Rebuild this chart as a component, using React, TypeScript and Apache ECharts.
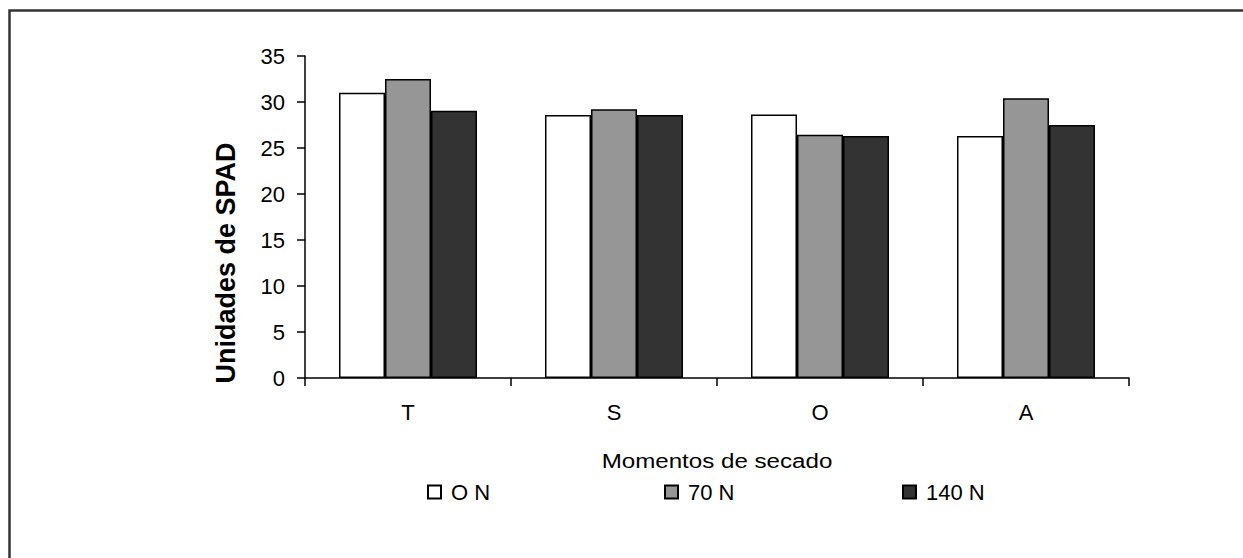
import React, { useEffect, useRef } from "react";
import * as echarts from "echarts";

const categories = ["T", "S", "O", "A"];
const seriesNames = ["O N", "70 N", "140 N"];
const valuesON = [31.0, 28.6, 28.65, 26.3];
const values70N = [32.5, 29.2, 26.45, 30.4];
const values140N = [29.05, 28.6, 26.3, 27.5];
const yTicks = { min: 0, max: 35, interval: 5 };
const yTitle = "Unidades de SPAD";
const xTitle = "Momentos de secado";

const colors = ["#ffffff", "#969696", "#333333"];
const FONT = "'Liberation Sans', Arial, sans-serif";

export default function App() {
  const ref = useRef<HTMLDivElement>(null);
  useEffect(() => {
    if (!ref.current) return;
    const chart = echarts.init(ref.current, null, { renderer: "svg" });
    const data = [valuesON, values70N, values140N];
    const legendLefts = [427, 664, 902];
    chart.setOption({
      animation: false,
      backgroundColor: "#ffffff",
      textStyle: { fontFamily: FONT },
      grid: { left: 305, right: 114, top: 56, bottom: 180, containLabel: false },
      legend: seriesNames.map((n, i) => ({
        data: [n],
        left: legendLefts[i],
        top: 481,
        itemWidth: 13,
        itemHeight: 13,
        padding: 0,
        icon: "rect",
        textStyle: { fontSize: 22, color: "#000", fontFamily: FONT, padding: [0, 0, 0, 5] },
      })),
      xAxis: {
        type: "category",
        data: categories,
        axisLine: { lineStyle: { color: "#000", width: 1.5 } },
        axisTick: { show: true, length: 8, alignWithLabel: false, lineStyle: { color: "#000", width: 1.5 } },
        axisLabel: { fontSize: 22, color: "#000", margin: 23, fontFamily: FONT },
        splitLine: { show: false },
      },
      yAxis: {
        type: "value",
        min: yTicks.min,
        max: yTicks.max,
        interval: yTicks.interval,
        axisLine: { show: true, lineStyle: { color: "#000", width: 1.5 } },
        axisTick: { show: true, length: 8, lineStyle: { color: "#000", width: 1.5 } },
        axisLabel: { fontSize: 22, color: "#000", margin: 20, fontFamily: FONT },
        splitLine: { show: false },
      },
      series: seriesNames.map((n, i) => ({
        name: n,
        type: "bar",
        data: data[i],
        barGap: "0%",
        barCategoryGap: "33%",
        itemStyle: { color: colors[i], borderColor: "#000", borderWidth: 1.5 },
      })),
      graphic: [
        {
          type: "rect",
          shape: { x: 9.5, y: 10.5, width: 1400, height: 700 },
          style: { fill: "none", stroke: "#333", lineWidth: 2.5 },
          silent: true,
        },
        {
          type: "text",
          x: 226,
          y: 263,
          rotation: Math.PI / 2,
          style: {
            text: yTitle,
            font: `bold 27px ${FONT}`,
            fill: "#000",
            align: "center",
            verticalAlign: "middle",
          },
        },
        {
          type: "text",
          x: 717,
          y: 461,
          scaleX: 1.15,
          style: {
            text: xTitle,
            font: `21px ${FONT}`,
            fill: "#000",
            align: "center",
            verticalAlign: "middle",
          },
        },
      ],
    });
    return () => chart.dispose();
  }, []);
  return (
    <div
      ref={ref}
      style={{ position: "fixed", left: 0, top: 0, width: 1243, height: 558 }}
    />
  );
}
